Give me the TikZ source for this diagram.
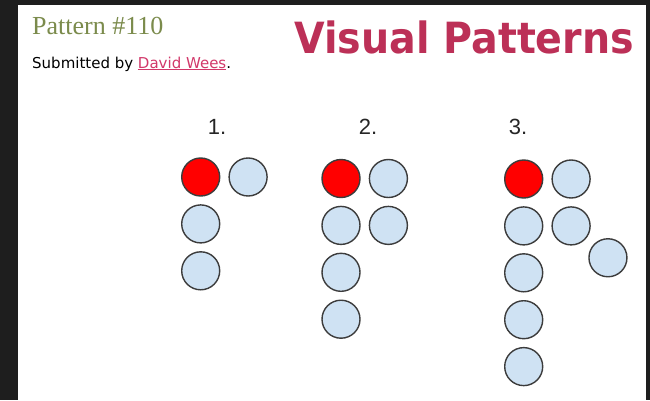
\documentclass[tikz,border=0pt]{standalone}
\usepackage{fontspec}
\usepackage{tikz}
\usetikzlibrary{positioning}
\setmainfont{Liberation Serif}
\newfontfamily\vpsans{DejaVu Sans}
\newfontfamily\vpwide[FakeStretch=0.92]{DejaVu Sans}
\newfontfamily\vparial{Liberation Sans}
\definecolor{vpDark}{HTML}{1E1E1E}
\definecolor{vpRed}{HTML}{FF0000}
\definecolor{vpBlue}{HTML}{CFE2F3}
\definecolor{vpEdge}{HTML}{3C3C3C}
\definecolor{vpTitle}{HTML}{BC3057}
\definecolor{vpGreen}{HTML}{7B8B4C}
\definecolor{vpLink}{HTML}{D2386A}
\tikzset{
  dot/.style={circle, draw=vpEdge, line width=1.4pt, minimum size=38pt,
    inner sep=0pt, fill=vpBlue},
  startdot/.style={dot, fill=vpRed},
  steplabel/.style={anchor=base, font=\vparial\fontsize{22}{22}\selectfont, text=black!85},
  headline/.style={anchor=base west, inner sep=0pt}
}

\begin{document}
\begin{tikzpicture}[x=1pt, y=-1pt, node distance=7.5pt and 8pt]
  \fill[vpDark] (0,0) rectangle (650,400);
  \fill[white] (18,5) rectangle (646,400);
  \useasboundingbox (0,0) rectangle (650,400);
  % header
  \node[headline, text=vpGreen, font=\fontsize{26}{26}\selectfont] (ptitle) at (32,34) {Pattern \#110};
  \node[headline, font=\vpsans\fontsize{15}{15}\selectfont] (sub) at (32,68)
    {Submitted by \textcolor{vpLink}{\underline{David Wees}}.};
  \node[headline, text=vpTitle, font=\vpwide\bfseries\fontsize{43}{43}\selectfont] (site) at (294,53) {Visual Patterns};
  % step labels
  \node[steplabel] (n1) at (217,134) {1.};
  \node[steplabel] (n2) at (368,134) {2.};
  \node[steplabel] (n3) at (518,134) {3.};
  % step 1
  \node[startdot] (a1) at (200.7,177) {};
  \node[dot, right=of a1] (ar) {};
  \foreach \i/\j in {1/2,2/3} \node[dot, below=of a\i] (a\j) {};
  % step 2
  \node[startdot] (b1) at (341,178.5) {};
  \node[dot, right=of b1] (br) {};
  \foreach \i/\j in {1/2,2/3,3/4} \node[dot, below=of b\i] (b\j) {};
  \node[dot, right=of b2] (bs) {};
  % step 3
  \node[startdot] (c1) at (523.7,179) {};
  \node[dot, right=of c1] (cr) {};
  \foreach \i/\j in {1/2,2/3,3/4,4/5} \node[dot, below=of c\i] (c\j) {};
  \node[dot, right=of c2] (cs) {};
  \node[dot, below right=4pt and 9pt of cs] (ct) {};
\end{tikzpicture}
\end{document}
